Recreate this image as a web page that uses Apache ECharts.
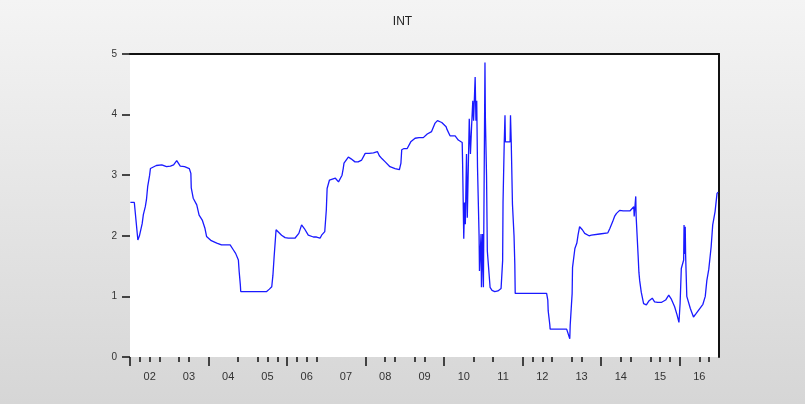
<!DOCTYPE html>
<html>
<head>
<meta charset="utf-8">
<title>INT</title>
<script src="https://cdn.jsdelivr.net/npm/echarts@6/dist/echarts.min.js"></script>
<style>
  html, body { margin: 0; padding: 0; }
  #chart { width: 805px; height: 404px; }
</style>
</head>
<body>
<div id="chart"></div>
<script>
// Interest rate series, decimal year -> percent
var dates = [
  2002.01, 2002.11, 2002.20, 2002.24, 2002.31, 2002.34, 2002.39, 2002.42, 2002.45, 2002.50,
  2002.52, 2002.57, 2002.67, 2002.81, 2002.93, 2003.03, 2003.11, 2003.19, 2003.28, 2003.39,
  2003.51, 2003.55, 2003.56, 2003.61, 2003.70, 2003.76, 2003.84, 2003.91, 2003.95, 2004.07,
  2004.21, 2004.33, 2004.55, 2004.63, 2004.69, 2004.76, 2004.78, 2004.81, 2004.82, 2005.14,
  2005.48, 2005.55, 2005.61, 2005.64, 2005.67, 2005.72, 2005.86, 2005.95, 2006.03, 2006.20,
  2006.30, 2006.37, 2006.44, 2006.54, 2006.67, 2006.75, 2006.84, 2006.88, 2006.96, 2007.00,
  2007.02, 2007.08, 2007.23, 2007.31, 2007.40, 2007.43, 2007.45, 2007.56, 2007.63, 2007.73,
  2007.81, 2007.90, 2007.99, 2008.09, 2008.20, 2008.30, 2008.35, 2008.42, 2008.50, 2008.62,
  2008.75, 2008.86, 2008.90, 2008.92, 2008.98, 2009.06, 2009.15, 2009.26, 2009.36, 2009.47,
  2009.57, 2009.68, 2009.77, 2009.83, 2009.94, 2010.05, 2010.07, 2010.15, 2010.28, 2010.36,
  2010.46, 2010.47, 2010.49, 2010.50, 2010.52, 2010.54, 2010.57, 2010.59, 2010.64, 2010.67,
  2010.70, 2010.73, 2010.75, 2010.79, 2010.81, 2010.83, 2010.85, 2010.89, 2010.90, 2010.94,
  2010.95, 2010.98, 2011.00, 2011.04, 2011.05, 2011.08, 2011.10, 2011.15, 2011.17, 2011.22,
  2011.29, 2011.37, 2011.45, 2011.49, 2011.50, 2011.53, 2011.55, 2011.56, 2011.68, 2011.69,
  2011.71, 2011.74, 2011.78, 2011.80, 2011.81, 2012.61, 2012.64, 2012.65, 2012.69, 2012.70,
  2013.12, 2013.17, 2013.20, 2013.21, 2013.26, 2013.27, 2013.33, 2013.38, 2013.41, 2013.45,
  2013.52, 2013.58, 2013.69, 2013.75, 2013.96, 2014.17, 2014.22, 2014.29, 2014.34, 2014.39,
  2014.47, 2014.56, 2014.73, 2014.83, 2014.84, 2014.88, 2014.89, 2014.94, 2014.96, 2014.98,
  2015.02, 2015.08, 2015.15, 2015.22, 2015.30, 2015.36, 2015.44, 2015.53, 2015.64, 2015.72,
  2015.79, 2015.87, 2015.93, 2015.98, 2016.01, 2016.04, 2016.10, 2016.11, 2016.12, 2016.14,
  2016.15, 2016.18, 2016.27, 2016.35, 2016.42, 2016.51, 2016.59, 2016.65, 2016.69, 2016.74,
  2016.80, 2016.84, 2016.90, 2016.95, 2016.98
];
var rates = [
  2.55, 2.55, 1.93, 2.00, 2.20, 2.35, 2.48, 2.60, 2.81, 3.00,
  3.11, 3.13, 3.16, 3.17, 3.14, 3.15, 3.17, 3.24, 3.15, 3.14,
  3.11, 3.03, 2.79, 2.62, 2.51, 2.34, 2.26, 2.12, 1.99, 1.92,
  1.88, 1.85, 1.85, 1.77, 1.71, 1.60, 1.41, 1.19, 1.08, 1.08,
  1.08, 1.12, 1.16, 1.35, 1.65, 2.10, 2.01, 1.97, 1.96, 1.96,
  2.04, 2.18, 2.12, 2.01, 1.98, 1.98, 1.96, 2.01, 2.07, 2.43,
  2.78, 2.92, 2.95, 2.89, 3.00, 3.11, 3.20, 3.30, 3.27, 3.22,
  3.22, 3.25, 3.36, 3.36, 3.37, 3.39, 3.32, 3.27, 3.22, 3.14,
  3.11, 3.09, 3.20, 3.42, 3.44, 3.44, 3.55, 3.61, 3.62, 3.62,
  3.68, 3.72, 3.86, 3.90, 3.87, 3.80, 3.76, 3.65, 3.65, 3.58,
  3.54, 3.21, 3.20, 1.95, 2.55, 2.19, 3.35, 2.30, 3.93, 3.35,
  3.82, 4.23, 3.90, 4.62, 3.90, 4.23, 3.13, 2.00, 1.42, 2.03,
  1.15, 2.03, 1.15, 4.86, 3.96, 2.99, 1.75, 1.75, 1.15, 1.10,
  1.08, 1.09, 1.13, 1.59, 2.55, 3.52, 3.99, 3.55, 3.55, 3.99,
  3.52, 2.52, 2.00, 1.53, 1.05, 1.05, 0.94, 0.76, 0.54, 0.46,
  0.46, 0.47, 0.30, 0.52, 1.05, 1.48, 1.79, 1.88, 2.01, 2.15,
  2.10, 2.04, 2.00, 2.01, 2.03, 2.05, 2.12, 2.23, 2.32, 2.37,
  2.42, 2.41, 2.41, 2.48, 2.32, 2.65, 2.32, 1.68, 1.40, 1.26,
  1.07, 0.88, 0.86, 0.93, 0.97, 0.91, 0.90, 0.90, 0.94, 1.02,
  0.95, 0.83, 0.70, 0.57, 0.89, 1.46, 1.60, 2.18, 1.70, 2.15,
  1.68, 1.00, 0.80, 0.66, 0.72, 0.80, 0.87, 1.00, 1.26, 1.45,
  1.82, 2.18, 2.40, 2.70, 2.72
];

// Axis ticks and labels
var yearLabels = ['02', '03', '04', '05', '06', '07', '08', '09', '10', '11', '12', '13', '14', '15', '16'];
var labelPositions = yearLabels.map(function (s) { return 2000 + Number(s) + 0.5; });
var shortTicks = [
  2002.25, 2002.5, 2002.75, 2003.25, 2003.5, 2004.75, 2005.25, 2005.5, 2005.75,
  2006.25, 2006.5, 2006.75, 2008.5, 2008.75, 2009.25, 2009.5, 2010.75, 2011.25,
  2012.25, 2012.5, 2012.75, 2013.25, 2013.5, 2014.5, 2014.75, 2015.25, 2015.5,
  2015.75, 2016.5, 2016.75
];
var longTicks = [2002, 2004, 2006, 2008, 2010, 2012, 2014, 2016];
var yTicks = [0, 1, 2, 3, 4, 5];

var xMin = 2002, xMax = 2017;
var seriesData = dates.map(function (d, i) { return [d, rates[i]]; });

var chart = echarts.init(document.getElementById('chart'), null, { renderer: 'canvas' });
chart.setOption({
  animation: false,
  backgroundColor: new echarts.graphic.LinearGradient(0, 0, 0, 1, [
    { offset: 0, color: '#f4f4f4' },
    { offset: 1, color: '#d6d6d6' }
  ]),
  title: {
    text: 'INT',
    left: 'center',
    top: 11,
    textStyle: { fontFamily: 'Liberation Sans, Arial, sans-serif', fontSize: 12, fontWeight: 'normal', color: '#222' }
  },
  grid: {
    left: 130, right: 86, top: 54, bottom: 47,
    show: true, backgroundColor: '#ffffff', borderWidth: 0
  },
  xAxis: [
    {
      type: 'value', min: xMin, max: xMax, position: 'bottom',
      axisLine: { show: false },
      splitLine: { show: false },
      axisTick: { show: true, inside: false, length: 5, customValues: shortTicks, lineStyle: { color: '#111', width: 1.5 } },
      axisLabel: {
        show: true, margin: 14, customValues: labelPositions,
        fontFamily: 'Liberation Sans, Arial, sans-serif', fontSize: 11, color: '#333',
        formatter: function (v) { return yearLabels[labelPositions.indexOf(v)]; }
      }
    },
    {
      type: 'value', min: xMin, max: xMax, position: 'bottom',
      axisLine: { show: false },
      splitLine: { show: false },
      axisTick: { show: true, inside: false, length: 9, customValues: longTicks, lineStyle: { color: '#111', width: 1.5 } },
      axisLabel: { show: false }
    },
    {
      type: 'value', min: xMin, max: xMax, position: 'top',
      axisLine: { show: true, lineStyle: { color: '#111', width: 2 } },
      axisTick: { show: false }, axisLabel: { show: false }, splitLine: { show: false }
    }
  ],
  yAxis: [
    {
      type: 'value', min: 0, max: 5, interval: 1, position: 'left',
      axisLine: { show: false },
      splitLine: { show: false },
      axisTick: { show: true, inside: false, length: 8, customValues: yTicks, lineStyle: { color: '#111', width: 1.5 } },
      axisLabel: { margin: 13, fontFamily: 'Liberation Sans, Arial, sans-serif', fontSize: 10, color: '#333' }
    },
    {
      type: 'value', min: 0, max: 5, position: 'right',
      axisLine: { show: true, lineStyle: { color: '#111', width: 2 } },
      axisTick: { show: false }, axisLabel: { show: false }, splitLine: { show: false }
    }
  ],
  series: [
    {
      type: 'line',
      xAxisIndex: 0,
      yAxisIndex: 0,
      data: seriesData,
      symbol: 'none',
      smooth: false,
      lineStyle: { color: '#1a1aff', width: 1.3 }
    }
  ]
});
</script>
</body>
</html>
